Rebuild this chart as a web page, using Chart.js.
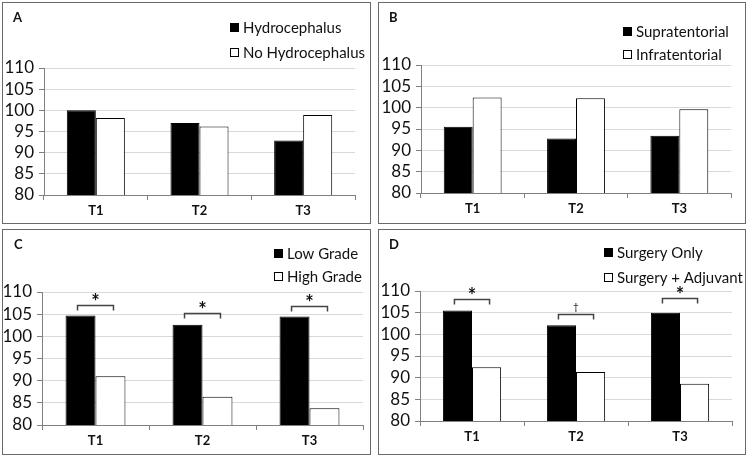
<!DOCTYPE html>
<html>
<head>
<meta charset="utf-8">
<script src="https://cdn.jsdelivr.net/npm/chart.js@4.4.0/dist/chart.umd.min.js"></script>
<style>
  body { margin: 0; background: #fff; width: 750px; height: 457px; position: relative; overflow: hidden; }
  .panel { position: absolute; border: 1px solid #6a6a6a; box-sizing: border-box; }
  .panel canvas { display: block; }
</style>
</head>
<body>
<div class="panel" style="left:2px;top:2px;width:369px;height:222px"><canvas id="chartA" width="367" height="220"></canvas></div>
<div class="panel" style="left:378px;top:2px;width:368px;height:222px"><canvas id="chartB" width="366" height="220"></canvas></div>
<div class="panel" style="left:2px;top:229px;width:369px;height:226px"><canvas id="chartC" width="367" height="224"></canvas></div>
<div class="panel" style="left:378px;top:229px;width:368px;height:226px"><canvas id="chartD" width="366" height="224"></canvas></div>

<script>
// shared axis
const categories = ['T1', 'T2', 'T3'];
const yMin = 80, yMax = 110, yStep = 5;

// A
const hydroNames = ['Hydrocephalus', 'No Hydrocephalus'];
const hydro = [100, 97, 92.9];
const noHydro = [98.2, 96.2, 98.9];

// B
const locationNames = ['Supratentorial', 'Infratentorial'];
const supra = [95.5, 92.8, 93.4];
const infra = [102.4, 102.2, 99.6];

// C
const gradeNames = ['Low Grade', 'High Grade'];
const lowGrade = [104.7, 102.6, 104.5];
const highGrade = [91.0, 86.4, 83.8];
const gradeBrackets = [107.0, 105.2, 106.9];
const gradeMarks = ['*', '*', '*'];

// D
const treatNames = ['Surgery Only', 'Surgery + Adjuvant'];
const surgeryOnly = [105.5, 102.1, 105.0];
const adjuvant = [92.4, 91.3, 88.6];
const treatBrackets = [108.2, 104.7, 108.3];
const treatMarks = ['*', '\u2020', '*'];

const FONT = 'Lato';

// letter, legend and significance brackets
const panelDeco = {
  id: 'panelDeco',
  afterDraw(chart, args, opts) {
    const ctx = chart.ctx;
    ctx.save();
    ctx.fillStyle = '#111';
    ctx.font = 'bold 13px ' + FONT;
    ctx.textBaseline = 'top';
    ctx.fillText(opts.letter, opts.letterX, 8);

    ctx.font = '15px ' + FONT;
    ctx.textBaseline = 'middle';
    chart.data.datasets.forEach((ds, i) => {
      const y = Math.round(opts.legendRows[i]);
      const x = Math.round(opts.legendX);
      ctx.fillStyle = ds.backgroundColor;
      ctx.fillRect(x, y - 4, 9, 9);
      ctx.strokeStyle = '#000';
      ctx.lineWidth = 1;
      ctx.strokeRect(x + 0.5, y - 3.5, 8, 8);
      ctx.fillStyle = '#111';
      ctx.fillText(ds.label, x + 13, y + 1);
    });

    if (opts.brackets) {
      const yScale = chart.scales.y;
      const m0 = chart.getDatasetMeta(0);
      const m1 = chart.getDatasetMeta(1);
      opts.brackets.forEach((v, i) => {
        const y = Math.round(yScale.getPixelForValue(v)) + 0.5;
        const x0 = m0.data[i].x - 3;
        const x1 = m1.data[i].x + 3;
        ctx.strokeStyle = '#444';
        ctx.lineWidth = 1.5;
        ctx.beginPath();
        ctx.moveTo(x0, y + 5);
        ctx.lineTo(x0, y);
        ctx.lineTo(x1, y);
        ctx.lineTo(x1, y + 5);
        ctx.stroke();
        const mark = opts.marks[i];
        ctx.fillStyle = '#111';
        ctx.textAlign = 'center';
        ctx.textBaseline = 'alphabetic';
        if (mark === '*') {
          ctx.font = 'bold 20px ' + FONT;
          ctx.fillText(mark, (x0 + x1) / 2, y + 3);
        } else {
          ctx.font = '10px ' + FONT;
          ctx.fillText(mark, (x0 + x1) / 2, y - 5);
        }
      });
    }
    ctx.restore();
  }
};

function makeChart(id, names, first, second, geo, deco) {
  const canvas = document.getElementById(id);
  const W = canvas.width, H = canvas.height;
  return new Chart(canvas, {
    type: 'bar',
    data: {
      labels: categories,
      datasets: [
        { label: names[0], data: first, backgroundColor: '#000', borderColor: '#000', borderWidth: 1, borderSkipped: false },
        { label: names[1], data: second, backgroundColor: '#fff', borderColor: '#000', borderWidth: 1, borderSkipped: false }
      ]
    },
    options: {
      responsive: false,
      animation: false,
      devicePixelRatio: 1,
      categoryPercentage: 0.56,
      barPercentage: 1,
      layout: { padding: { left: 0, top: geo.top, right: W - geo.right, bottom: 0 } },
      plugins: {
        legend: { display: false },
        tooltip: { enabled: false },
        panelDeco: deco
      },
      scales: {
        x: {
          afterFit: s => { s.height = H - geo.bottom; },
          border: { display: true, color: '#808080', width: 1 },
          grid: { offset: true, drawOnChartArea: false, drawTicks: true, tickLength: 5, color: '#808080' },
          ticks: { color: '#111', padding: 3, font: { family: FONT, size: 13, weight: 'bold' } }
        },
        y: {
          min: yMin,
          max: yMax,
          afterFit: s => { s.width = geo.left; },
          border: { display: true, color: '#808080', width: 1 },
          grid: {
            color: c => (c.tick && c.tick.value === yMin ? '#808080' : '#d9d9d9'),
            tickColor: '#808080',
            tickLength: 5,
            lineWidth: 1
          },
          ticks: { stepSize: yStep, autoSkip: false, color: '#111', padding: 5, font: { family: FONT, size: 17 } }
        }
      }
    },
    plugins: [panelDeco]
  });
}

makeChart('chartA', hydroNames, hydro, noHydro,
  { left: 41, right: 352, top: 65, bottom: 192 },
  { letter: 'A', letterX: 10, legendX: 227, legendRows: [23.7, 48.7] });

makeChart('chartB', locationNames, supra, infra,
  { left: 42, right: 352, top: 62, bottom: 190 },
  { letter: 'B', letterX: 10, legendX: 244, legendRows: [27.8, 50.8] });

makeChart('chartC', gradeNames, lowGrade, highGrade,
  { left: 39, right: 360, top: 62, bottom: 195 },
  { letter: 'C', letterX: 11, legendX: 271, legendRows: [23, 45.5], brackets: gradeBrackets, marks: gradeMarks });

makeChart('chartD', treatNames, surgeryOnly, adjuvant,
  { left: 41, right: 353, top: 61, bottom: 191 },
  { letter: 'D', letterX: 10, legendX: 225, legendRows: [22.2, 46.8], brackets: treatBrackets, marks: treatMarks });
</script>
</body>
</html>
